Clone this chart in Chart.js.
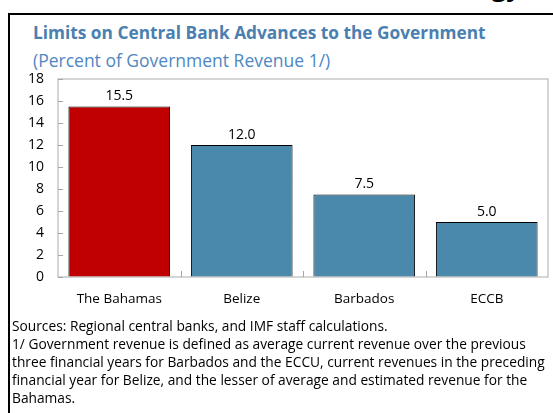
<!DOCTYPE html>
<html lang="en">
<head>
  <meta charset="UTF-8">
  <title>Central Bank Advances</title>
  <script src="https://cdn.jsdelivr.net/npm/chart.js"></script>
  <style>
    body {
      margin: 0;
      width: 553px;
      height: 413px;
      overflow: hidden;
      background: white;
      font-family: 'Open Sans', sans-serif;
      position: relative;
    }

    .topcut {
      position: absolute;
      right: 32px;
      top: -30px;
      font-size: 26px;
      font-weight: bold;
      color: #000;
      line-height: 32px;
    }

    .frame {
      position: absolute;
      left: 8px;
      top: 13px;
      width: 600px;
      height: 500px;
      border-left: 2px solid #000;
      border-top: 2px solid #000;
    }

    .title {
      position: absolute;
      left: 33px;
      top: 21px;
      font-size: 17.3px;
      font-weight: bold;
      color: #4a7fb0;
      white-space: nowrap;
    }

    .subtitle {
      position: absolute;
      left: 33px;
      top: 48px;
      font-size: 17.5px;
      color: #4f87c2;
      white-space: nowrap;
    }

    #chartBox {
      position: absolute;
      left: 0;
      top: 0;
      width: 553px;
      height: 320px;
    }

    .notes {
      position: absolute;
      left: 12px;
      top: 317px;
      font-size: 13.75px;
      line-height: 18px;
      color: #000;
      white-space: nowrap;
    }
  </style>
</head>
<body>

  <div class="topcut">Strategy</div>
  <div class="frame"></div>
  <div class="title">Limits on Central Bank Advances to the Government</div>
  <div class="subtitle">(Percent of Government Revenue 1/)</div>

  <div id="chartBox"><canvas id="barChart" width="553" height="320"></canvas></div>

  <div class="notes">
    Sources: Regional central banks, and IMF staff calculations.<br>
    1/ Government revenue is defined as average current revenue over the previous<br>
    three financial years for Barbados and the ECCU, current revenues in the preceding<br>
    financial year for Belize, and the lesser of average and estimated revenue for the<br>
    Bahamas.
  </div>

  <script>
    const countries = ['The Bahamas', 'Belize', 'Barbados', 'ECCB'];
    const limits = [15.5, 12.0, 7.5, 5.0];
    const yTicks = [0, 2, 4, 6, 8, 10, 12, 14, 16, 18];

    // dotted blue fill for the regular bars
    function dotPattern() {
      const c = document.createElement('canvas');
      c.width = 8;
      c.height = 10;
      const g = c.getContext('2d');
      g.fillStyle = '#4a89ab';
      g.fillRect(0, 0, 8, 10);
      g.fillStyle = '#5897ba';
      g.fillRect(3, 4, 1, 1);
      return g.createPattern(c, 'repeat');
    }

    const blueFill = dotPattern();
    const barColors = countries.map((c, i) => i === 0 ? '#c00000' : blueFill);

    // plot frame, inward tick marks and the value labels
    const decorations = {
      id: 'decorations',
      afterDraw(chart) {
        const ctx = chart.ctx;
        const a = chart.chartArea;
        const x = chart.scales.x;
        const y = chart.scales.y;
        ctx.save();
        ctx.strokeStyle = '#c8c8c8';
        ctx.lineWidth = 1.5;
        ctx.strokeRect(a.left, a.top, a.right - a.left, a.bottom - a.top);

        ctx.strokeStyle = '#a6a6a6';
        ctx.lineWidth = 1;
        ctx.beginPath();
        yTicks.forEach(v => {
          const py = Math.round(y.getPixelForValue(v)) + 0.5;
          ctx.moveTo(a.left, py);
          ctx.lineTo(a.left + 5, py);
        });
        for (let i = 0; i < countries.length - 1; i++) {
          const px = Math.round(x.getPixelForValue(i + 0.5)) + 0.5;
          ctx.moveTo(px, a.bottom);
          ctx.lineTo(px, a.bottom - 6);
        }
        ctx.stroke();

        ctx.fillStyle = '#000';
        ctx.font = '14px "Open Sans", sans-serif';
        ctx.textAlign = 'center';
        ctx.textBaseline = 'bottom';
        chart.getDatasetMeta(0).data.forEach((bar, i) => {
          ctx.fillText(limits[i].toFixed(1), bar.x, bar.y - 3);
        });
        ctx.restore();
      }
    };

    const ctx1 = document.getElementById('barChart').getContext('2d');
    new Chart(ctx1, {
      type: 'bar',
      data: {
        labels: countries,
        datasets: [{
          data: limits,
          backgroundColor: barColors,
          borderColor: '#000',
          borderWidth: 1,
          barPercentage: 0.83,
          categoryPercentage: 1
        }]
      },
      options: {
        responsive: false,
        animation: false,
        layout: { padding: { top: 79, right: 5, left: 0, bottom: 0 } },
        plugins: {
          legend: { display: false },
          tooltip: { enabled: false }
        },
        scales: {
          x: {
            grid: { display: false, drawTicks: false },
            border: { display: false },
            ticks: {
              color: '#000',
              padding: 14,
              font: { family: 'Open Sans', size: 13.5 }
            },
            afterFit(scale) { scale.height = 43; }
          },
          y: {
            min: 0,
            max: 18,
            grid: { display: false, drawTicks: false },
            border: { display: false },
            afterBuildTicks(scale) { scale.ticks = yTicks.map(v => ({ value: v })); },
            ticks: {
              color: '#000',
              padding: 14,
              font: { family: 'Open Sans', size: 14 }
            },
            afterFit(scale) { scale.width = 58; }
          }
        }
      },
      plugins: [decorations]
    });
  </script>

</body>
</html>
